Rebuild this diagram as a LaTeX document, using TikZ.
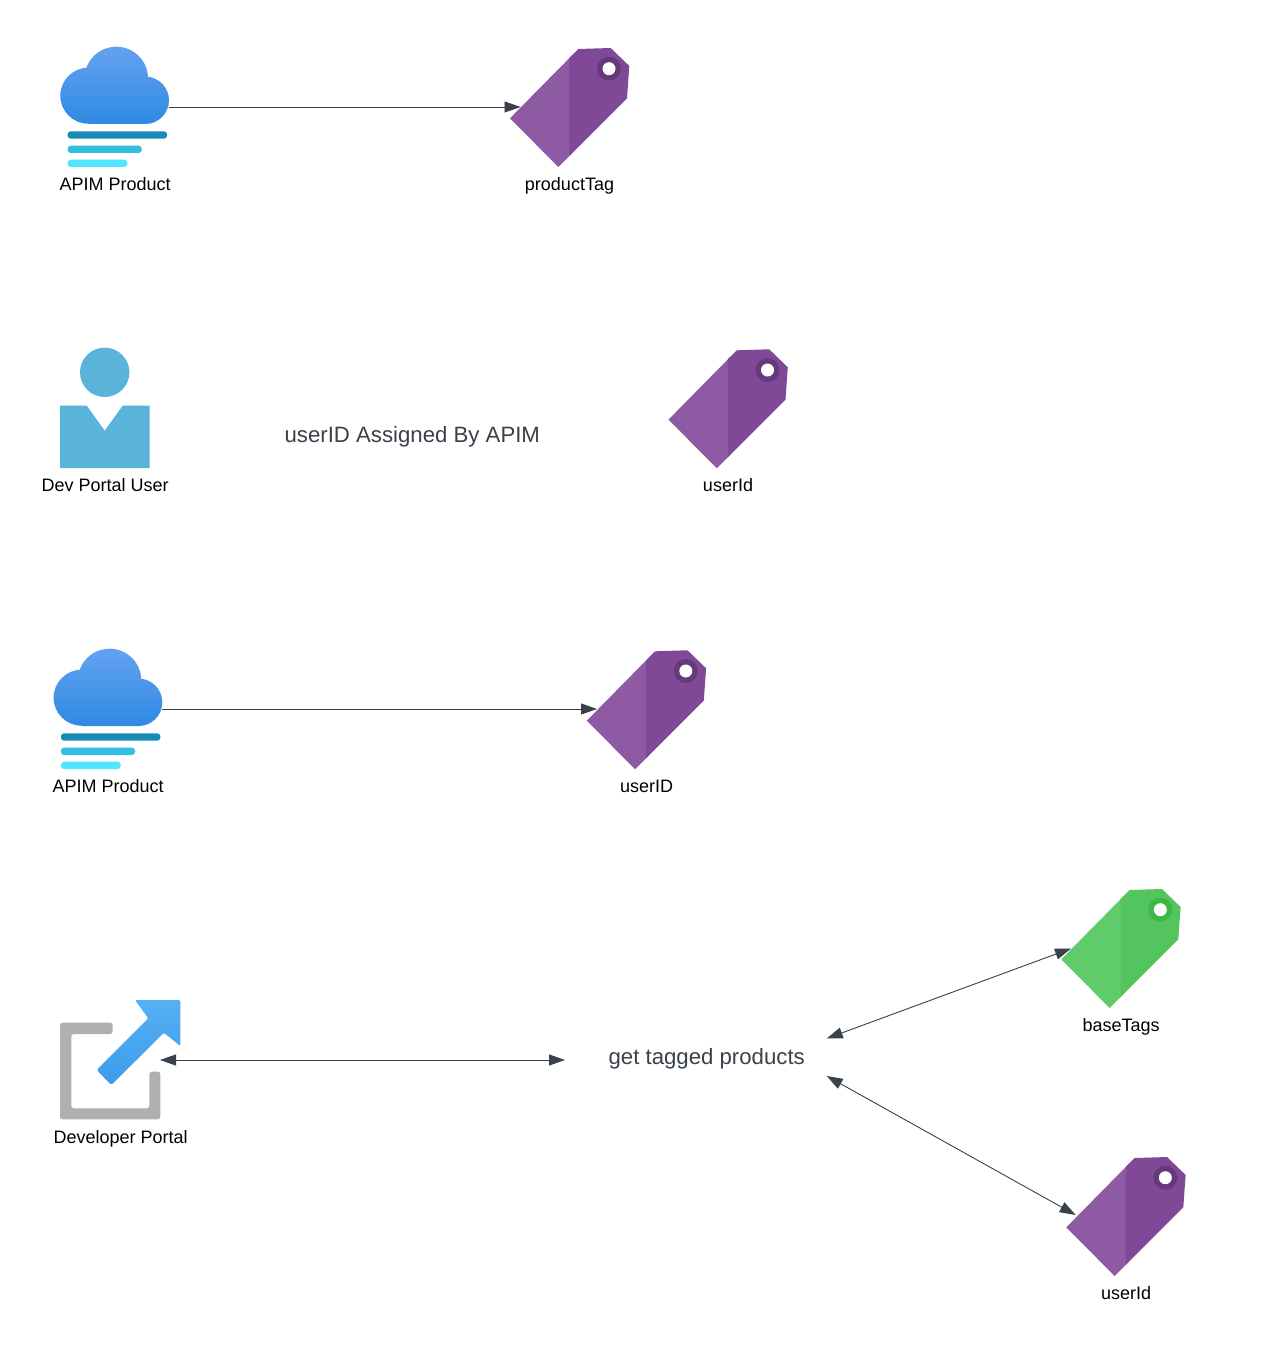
\documentclass[tikz,border=0pt]{standalone}
\usepackage{fontspec}
\setmainfont{Liberation Sans}
\usetikzlibrary{arrows.meta}
\definecolor{linec}{HTML}{3A414A}
\definecolor{purL}{HTML}{8D5AA3}
\definecolor{purD}{HTML}{804998}
\definecolor{purR}{HTML}{65397A}
\definecolor{grnL}{HTML}{5FCB69}
\definecolor{grnD}{HTML}{54C45F}
\definecolor{grnR}{HTML}{3CB944}
\definecolor{cloudT}{HTML}{64A2F0}
\definecolor{cloudB}{HTML}{2E8AE3}
\definecolor{barA}{HTML}{1A8AB8}
\definecolor{barB}{HTML}{32BFE0}
\definecolor{barC}{HTML}{50E6FF}
\definecolor{personc}{HTML}{5AB4DA}
\definecolor{portalg}{HTML}{B0B0B0}
\definecolor{arrT}{HTML}{55B0F4}
\definecolor{arrB}{HTML}{3C9CEC}
\tikzset{
  x=1pt,y=-1pt,
  caption/.style={anchor=base,text=black,inner sep=0pt,font=\fontsize{18}{20}\selectfont},
  bigtext/.style={anchor=base,text=linec,inner sep=0pt,font=\fontsize{22.2}{24}\selectfont},
  conn/.style={draw=linec,line width=0.9pt,-{Triangle[length=16pt,width=11pt,color=linec]}},
  connboth/.style={draw=linec,line width=0.9pt,{Triangle[length=16pt,width=11pt,color=linec]}-{Triangle[length=16pt,width=11pt,color=linec]}},
  pics/tagicon/.style n args={3}{code={
    \fill[#1] (0,71.3) -- (62,8.4) -- (62,106.3) -- (48.3,120) -- cycle;
    \fill[#2] (59.3,11.1) -- (68.3,2) -- (100.7,1) -- (119.3,19) -- (117,51.3) -- (59.3,109) -- cycle;
    \fill[#3] (99,21.7) circle [radius=12pt];
    \fill[white] (99,21.7) circle [radius=6.5pt];
  }},
  pics/cloudicon/.style={code={
    \shade[top color=cloudT,bottom color=cloudB]
      (56.3,31.4) circle [radius=31.7pt]
      (28.3,48.7) circle [radius=28pt]
      (85.3,53.3) circle [radius=23.7pt]
      (28.3,77) -- (85.3,77) -- (85.3,45) -- (28.3,45) -- cycle;
    \fill[barA,rounded corners=3pt] (7.7,84.3) rectangle (107,91.7);
    \fill[barB,rounded corners=3pt] (7.7,98.7) rectangle (81.7,106);
    \fill[barC,rounded corners=3pt] (7.7,112.7) rectangle (67.3,120);
  }},
}
\begin{document}
\begin{tikzpicture}
\useasboundingbox (0,0) rectangle (1262,1348);
\fill[white] (0,0) rectangle (1262,1348);

% Row 1
\pic at (60,47) {cloudicon};
\pic at (510,47) {tagicon={purL}{purD}{purR}};
\node[caption] (apim1) at (115.2,190.5) {APIM Product};
\node[caption] (tagp) at (569.5,190.5) {productTag};
\coordinate (c1out) at (169,107);
\coordinate (t1in) at (520.5,107);
\draw[conn] (c1out) -- (t1in);

% Row 2
\fill[personc] (104.7,372.3) circle [radius=24.7pt];
\fill[personc] (60,405.7) -- (86.7,405.7) -- (104.7,430.7) -- (122.7,405.7) -- (149.5,405.7) -- (149.5,468) -- (60,468) -- cycle;
\node[caption] (devuser) at (105.2,491.5) {Dev Portal User};
\node[bigtext] (assigned) at (412.3,442.3) {userID Assigned By APIM};
\pic at (668.5,348.3) {tagicon={purL}{purD}{purR}};
\node[caption] (tagu1) at (728,491.8) {userId};

% Row 3
\pic at (53.3,649) {cloudicon};
\pic at (586.8,649.3) {tagicon={purL}{purD}{purR}};
\node[caption] (apim2) at (108.2,792.5) {APIM Product};
\node[caption] (tagu2) at (646.5,792.5) {userID};
\coordinate (c2out) at (162,709);
\coordinate (t2in) at (597,709);
\draw[conn] (c2out) -- (t2in);

% Row 4
\fill[portalg,rounded corners=2.5pt]
  (60,1022.7) -- (112.7,1022.7) -- (112.7,1034) -- (71.3,1034) -- (71.3,1108.3) -- (149.3,1108.3)
  -- (149.3,1071.7) -- (160.3,1071.7) -- (160.3,1119.3) -- (60,1119.3) -- cycle;
\shade[top color=arrT,bottom color=arrB,rounded corners=1.5pt]
  (135,1000) -- (180.3,1000) -- (180.3,1046) -- (164,1032.7) -- (111.3,1085) -- (96.7,1070) -- (148.3,1018.3) -- cycle;
\node[caption] (portal) at (120.6,1143) {Developer Portal};
\node[bigtext] (gtp) at (706.7,1064.3) {get tagged products};
\pic at (1061.3,888) {tagicon={grnL}{grnD}{grnR}};
\node[caption] (tagb) at (1121.2,1031.5) {baseTags};
\pic at (1066.3,1156) {tagicon={purL}{purD}{purR}};
\node[caption] (tagu3) at (1126,1299.5) {userId};
\coordinate (pout) at (160,1060);
\coordinate (gl) at (565,1060);
\coordinate (gru) at (826.7,1038.5);
\coordinate (grd) at (826.7,1076);
\coordinate (bin) at (1071,948.5);
\coordinate (uin) at (1075.7,1215);
\draw[connboth] (pout) -- (gl);
\draw[connboth] (gru) -- (bin);
\draw[connboth] (grd) -- (uin);
\end{tikzpicture}
\end{document}
